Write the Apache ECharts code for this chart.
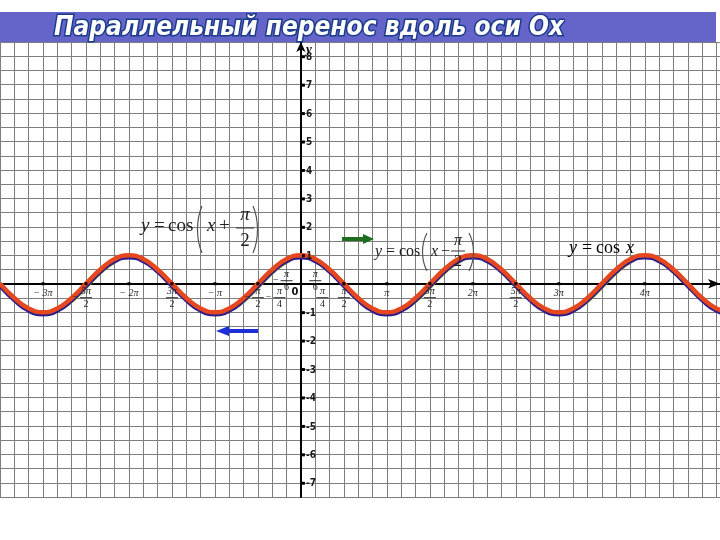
<!DOCTYPE html>
<html>
<head>
<meta charset="utf-8">
<script src="https://cdn.jsdelivr.net/npm/echarts@6/dist/echarts.min.js"></script>
<style>
  html, body { margin: 0; padding: 0; background: #fff; }
  #chart { width: 720px; height: 540px; }
</style>
</head>
<body>
<div id="chart"></div>
<script>
// x is measured in sixths of pi (1 grid cell = pi/6), y in plain units
const xs = [
  -21, -20, -19, -18, -17, -16, -15, -14, -13, -12, -11, -10, -9, -8, -7, -6, -5, -4, -3, -2, -1,
  0, 1, 2, 3, 4, 5, 6, 7, 8, 9, 10, 11, 12, 13, 14, 15, 16, 17, 18, 19, 20,
  21, 22, 23, 24, 25, 26, 27, 28, 29, 30
]

// y = cos x (red)
const redY = [
  0, -.5, -.87, -1, -.87, -.5, 0, .5, .87, 1, .87, .5,
  0, -.5, -.87, -1, -.87, -.5, 0, .5, .87, 1, .87, .5,
  0, -.5, -.87, -1, -.87, -.5, 0, .5, .87, 1, .87, .5,
  0, -.5, -.87, -1, -.87, -.5, 0, .5, .87, 1, .87, .5,
  0, -.5, -.87, -1
]

// blue curve, drawn a touch lower
const blueY = [
  -.08, -.58, -.95, -1.08, -.95, -.58, -.08, .42, .79, .92, .79, .42,
  -.08, -.58, -.95, -1.08, -.95, -.58, -.08, .42, .79, .92, .79, .42,
  -.08, -.58, -.95, -1.08, -.95, -.58, -.08, .42, .79, .92, .79, .42,
  -.08, -.58, -.95, -1.08, -.95, -.58, -.08, .42, .79, .92, .79, .42,
  -.08, -.58, -.95, -1.08
]

// olive curve peeking out on the rising parts
const greenY = [
  .02, -.49, -.88, -1.06, -.96, -.63, -.14, .37, .76, .94, .84, .51,
  .02, -.49, -.88, -1.06, -.96, -.63, -.14, .37, .76, .94, .84, .51,
  .02, -.49, -.88, -1.06, -.96, -.63, -.14, .37, .76, .94, .84, .51,
  .02, -.49, -.88, -1.06, -.96, -.63, -.14, .37, .76, .94, .84, .51,
  .02, -.49, -.88, -1.06
]

// x tick labels (position in sixths of pi)
const xLabelPos = [-18, -15, -12, -9, -6, -3, -1.5, -1, -0.42, 1, 1.5, 3, 6, 9, 12, 15, 18, 24]
const xLabelPre = ['', '−', '', '', '', '−', '−', '−', '', '', '', '', '', '', '', '', '', '']
const xLabelNum = ['− 3π', '5π', '− 2π', '3π', '− π', 'π', 'π', 'π', '0', 'π', 'π', 'π', 'π', '3π', '2π', '5π', '3π', '4π']
const xLabelDen = ['', '2', '', '2', '', '2', '4', '6', '', '6', '4', '2', '', '2', '', '2', '', '']

// y tick labels
const yLabelVals = [-7, -6, -5, -4, -3, -2, -1, 1, 2, 3, 4, 5, 6, 7, 8]

const toPairs = ys => xs.map((x, i) => [x, ys[i]])

const chart = echarts.init(document.getElementById('chart'))

const serif = '"Liberation Serif", "DejaVu Serif", serif'
const ink = '#2a2a2a'

function xLabelItem(params, api) {
  const x = api.value(0)
  const i = api.value(1)
  const p = api.coord([x, 0])
  const num = xLabelNum[i]
  const den = xLabelDen[i]
  const pre = xLabelPre[i]
  const font = 'italic 10px ' + serif
  const children = []

  if (num === '0') {
    children.push({
      type: 'text',
      style: { text: '0', x: p[0], y: p[1] + 8, align: 'center', verticalAlign: 'middle', font: 'bold 11px "DejaVu Sans Condensed", sans-serif', fill: '#111' }
    })
  } else if (den) {
    const above = Math.abs(x) === 1
    const ny = above ? p[1] - 9 : p[1] + 8
    const by = above ? p[1] - 3 : p[1] + 14
    const dy = above ? p[1] + 4 : p[1] + 21
    children.push({ type: 'text', style: { text: num, x: p[0], y: ny, align: 'center', verticalAlign: 'middle', font, fill: ink } })
    children.push({ type: 'line', shape: { x1: p[0] - 6, y1: by, x2: p[0] + 6, y2: by }, style: { stroke: ink, lineWidth: 1 } })
    children.push({ type: 'text', style: { text: den, x: p[0], y: dy, align: 'center', verticalAlign: 'middle', font: '10px ' + serif, fill: ink } })
    if (pre) {
      children.push({ type: 'text', style: { text: pre, x: p[0] - 8, y: by, align: 'right', verticalAlign: 'middle', font: '10px ' + serif, fill: ink } })
    }
  } else {
    children.push({ type: 'text', style: { text: num, x: p[0], y: p[1] + 10, align: 'center', verticalAlign: 'middle', font, fill: ink } })
  }

  if (Number.isInteger(x / 3) && x !== 0) {
    children.push({ type: 'rect', shape: { x: p[0] - 1.5, y: p[1] - 1.5, width: 3, height: 3 }, style: { fill: '#000' } })
  }
  return { type: 'group', children }
}

function yLabelItem(params, api) {
  const v = api.value(1)
  const p = api.coord([0, v])
  return {
    type: 'group',
    children: [
      { type: 'rect', shape: { x: p[0] + 1, y: p[1] - 1, width: 3, height: 3 }, style: { fill: '#000' } },
      {
        type: 'text',
        style: {
          text: String(v), x: p[0] + 5, y: p[1] + 1,
          align: 'left', verticalAlign: 'middle',
          font: 'bold 10px "DejaVu Sans Condensed", sans-serif',
          fill: '#1a1a1a'
        }
      }
    ]
  }
}

// pieces of a typeset formula
function txt(text, x, y, size, opts) {
  return {
    type: 'text',
    z: 20,
    style: Object.assign({
      text, x, y,
      verticalAlign: 'middle',
      font: size + 'px ' + serif,
      fill: '#222'
    }, opts || {})
  }
}

function bar(x1, x2, y) {
  return { type: 'line', z: 20, shape: { x1, y1: y, x2, y2: y }, style: { stroke: '#333', lineWidth: 1 } }
}

// thin tall bracket; dir -1 opens right "(", dir 1 opens left ")"
function paren(x, y1, y2, dir) {
  const bulge = 6 * dir
  const h = y2 - y1
  return {
    type: 'bezierCurve', z: 20,
    shape: { x1: x, y1, cpx1: x + bulge, cpy1: y1 + h * 0.3, cpx2: x + bulge, cpy2: y1 + h * 0.7, x2: x, y2 },
    style: { stroke: '#555', lineWidth: 1.2, fill: null }
  }
}

const graphics = [
  // title band
  { type: 'rect', z: 30, shape: { x: 0, y: 12, width: 716, height: 30 }, style: { fill: '#6565c9' } },
  {
    type: 'text', z: 31,
    style: {
      text: 'Параллельный перенос вдоль оси Ох',
      x: 54, y: 28,
      verticalAlign: 'middle',
      font: 'italic bold 26px "DejaVu Sans Condensed", "DejaVu Sans", sans-serif',
      fill: '#ffffff',
      stroke: '#1d3b8c',
      lineWidth: 3,
      shadowColor: '#9a1c2c',
      shadowOffsetX: 2,
      shadowOffsetY: 2
    }
  },

  // y = cos(x + pi/2)
  txt('y', 141, 226, 19, { font: 'italic 19px ' + serif }),
  txt('=', 154, 226, 19),
  txt('cos', 168, 226, 19),
  paren(202, 206, 253, -1),
  txt('x', 207, 226, 19, { font: 'italic 19px ' + serif }),
  txt('+', 219, 226, 19),
  txt('π', 245, 215, 19, { align: 'center', font: 'italic 19px ' + serif }),
  bar(236, 254, 228),
  txt('2', 245, 241, 19, { align: 'center' }),
  paren(253, 206, 253, 1),

  // y = cos(x - pi/2)
  txt('y', 375, 252, 16, { font: 'italic 16px ' + serif }),
  txt('=', 386, 252, 16),
  txt('cos', 399, 252, 16),
  paren(427, 233, 271, -1),
  txt('x', 431, 252, 16, { font: 'italic 16px ' + serif }),
  txt('−', 441, 252, 16),
  txt('π', 458, 241, 16, { align: 'center', font: 'italic 16px ' + serif }),
  bar(451, 465, 251),
  txt('2', 458, 262, 16, { align: 'center' }),
  paren(469, 233, 271, 1),

  // y = cos x
  txt('y', 569, 248, 18, { font: 'italic 18px ' + serif, fill: '#000' }),
  txt('=', 582, 248, 18, { fill: '#000' }),
  txt('cos', 596, 248, 18, { fill: '#000' }),
  txt('x', 626, 248, 18, { font: 'italic 18px ' + serif, fill: '#000' }),

  // green arrow (shift right)
  { type: 'line', z: 20, shape: { x1: 342, y1: 239, x2: 366, y2: 239 }, style: { stroke: '#1f6e1f', lineWidth: 4 } },
  { type: 'polygon', z: 20, shape: { points: [[363, 234], [374, 239], [363, 244]] }, style: { fill: '#1f6e1f' } },

  // blue arrow (shift left)
  { type: 'line', z: 20, shape: { x1: 258, y1: 331, x2: 226, y2: 331 }, style: { stroke: '#1c2fd4', lineWidth: 4 } },
  { type: 'polygon', z: 20, shape: { points: [[229, 326], [216, 331], [229, 336]] }, style: { fill: '#1c2fd4' } },

  // axis name
  txt('y', 306, 50, 13, { font: 'italic bold 13px ' + serif, fill: '#000' })
]

const option = {
  backgroundColor: '#ffffff',
  animation: false,
  grid: {
    left: 0,
    right: 0,
    top: 42,
    bottom: 43,
    containLabel: false
  },
  xAxis: {
    type: 'value',
    min: -21,
    max: 29.25,
    interval: 1,
    axisLine: {
      onZero: true,
      symbol: ['none', 'arrow'],
      symbolSize: [7, 12],
      lineStyle: { color: '#000', width: 2 }
    },
    axisTick: { show: false },
    axisLabel: { show: false },
    splitLine: { lineStyle: { color: '#7e7e7e', width: 1 } }
  },
  yAxis: {
    type: 'value',
    min: -7.5,
    max: 8.5,
    interval: 0.5,
    axisLine: {
      onZero: true,
      symbol: ['none', 'arrow'],
      symbolSize: [7, 10],
      lineStyle: { color: '#000', width: 2 }
    },
    axisTick: { show: false },
    axisLabel: { show: false },
    splitLine: { lineStyle: { color: '#7e7e7e', width: 1 } }
  },
  series: [
    {
      name: 'green',
      type: 'line',
      data: toPairs(greenY),
      smooth: 0.5,
      showSymbol: false,
      lineStyle: { color: '#7a8a1c', width: 3 },
      z: 3
    },
    {
      name: 'blue',
      type: 'line',
      data: toPairs(blueY),
      smooth: 0.5,
      showSymbol: false,
      lineStyle: { color: '#2a1c8c', width: 4 },
      z: 4
    },
    {
      name: 'cos x',
      type: 'line',
      data: toPairs(redY),
      smooth: 0.5,
      showSymbol: false,
      lineStyle: { color: '#e5481e', width: 4.5 },
      z: 5
    },
    {
      name: 'xlabels',
      type: 'custom',
      clip: false,
      z: 6,
      data: xLabelPos.map((x, i) => [x, i]),
      renderItem: xLabelItem
    },
    {
      name: 'ylabels',
      type: 'custom',
      clip: false,
      z: 6,
      data: yLabelVals.map(v => [0, v]),
      renderItem: yLabelItem
    }
  ],
  graphic: graphics
}

chart.setOption(option)
</script>
</body>
</html>
